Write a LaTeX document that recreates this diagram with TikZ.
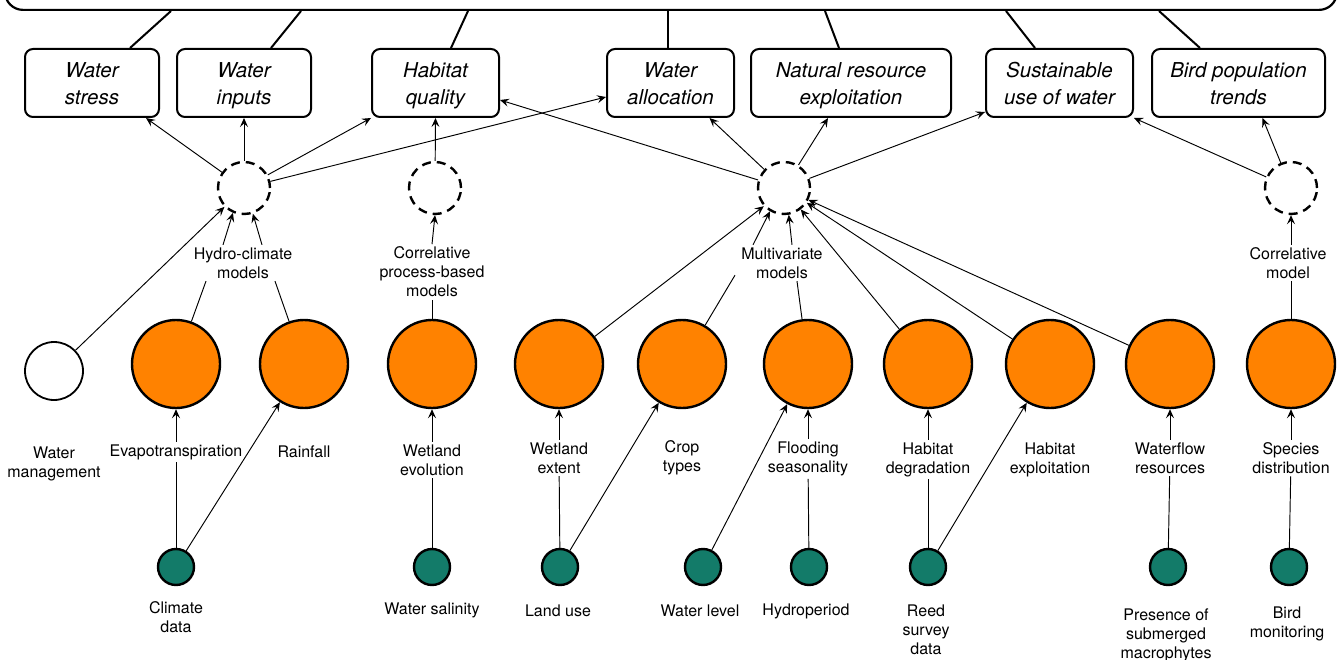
\documentclass[tikz,border=0pt]{standalone}
\usepackage{fontspec}
\setmainfont{TeX Gyre Heros}
\usetikzlibrary{arrows.meta}
\definecolor{driverorange}{HTML}{FF8200}
\definecolor{datagreen}{HTML}{137B69}
% fixed line heights so every two-line box label sits at the same height
\newcommand\boxtopstrut{\rule{0pt}{22pt}}
\newcommand\boxbotstrut{\rule[-6pt]{0pt}{6pt}}

\begin{document}
\begin{tikzpicture}[x=1pt,y=-1pt,
  frame/.style={draw, line width=2.2pt, rounded corners=18pt, inner sep=0pt},
  outcome/.style={draw, line width=2pt, rounded corners=8pt, minimum height=68pt, inner sep=0pt, align=center, font=\fontsize{20.5}{27}\selectfont\itshape},
  model/.style={draw, circle, dash pattern=on 9pt off 6pt, line width=2.4pt, minimum size=52pt, inner sep=0pt},
  driver/.style={draw, circle, fill=driverorange, line width=2.4pt, minimum size=88pt, inner sep=0pt},
  blank/.style={draw, circle, fill=white, line width=1.8pt, minimum size=58pt, inner sep=0pt},
  datum/.style={draw, circle, fill=datagreen, line width=2.4pt, minimum size=36pt, inner sep=0pt},
  lbl/.style={align=center, inner sep=2.5pt, font=\fontsize{16}{19}\selectfont},
  link/.style={line width=0.95pt},
  arr/.style={line width=0.95pt, -{Stealth[length=9pt, width=8pt, inset=3.5pt]}},
]
\useasboundingbox (0,0) rectangle (1343,660);

% overarching frame (top edge runs off the page)
\node[frame, minimum width=1332pt, minimum height=100pt, anchor=south] (top) at (671,11) {};

% outcome boxes
\node[outcome, minimum width=134pt] (ws) at (92,83)     {\boxtopstrut Water\\stress\boxbotstrut};
\node[outcome, minimum width=134pt] (wi) at (244,83)    {\boxtopstrut Water\\inputs\boxbotstrut};
\node[outcome, minimum width=127pt] (hq) at (435.5,83)  {\boxtopstrut Habitat\\quality\boxbotstrut};
\node[outcome, minimum width=127pt] (wa) at (670.5,83)  {\boxtopstrut Water\\allocation\boxbotstrut};
\node[outcome, minimum width=200pt] (nr) at (851,83)    {\boxtopstrut Natural resource\\exploitation\boxbotstrut};
\node[outcome, minimum width=147pt] (su) at (1059.5,83) {\boxtopstrut Sustainable\\use of water\boxbotstrut};
\node[outcome, minimum width=173pt] (bp) at (1238.5,83) {\boxtopstrut Bird population\\trends\boxbotstrut};

% links from the frame to the boxes
\draw[line width=2pt] ([xshift=-500pt]top.south) -- ([xshift=38pt]ws.north);
\draw[line width=2pt] ([xshift=-370pt]top.south) -- ([xshift=27pt]wi.north);
\draw[line width=2pt] ([xshift=-203pt]top.south) -- ([xshift=15.5pt]hq.north);
\draw[line width=2pt] ([xshift=-3pt]top.south)   -- ([xshift=-2.5pt]wa.north);
\draw[line width=2pt] ([xshift=154pt]top.south)  -- ([xshift=-12pt]nr.north);
\draw[line width=2pt] ([xshift=335pt]top.south)  -- ([xshift=-24.5pt]su.north);
\draw[line width=2pt] ([xshift=488pt]top.south)  -- ([xshift=-38.5pt]bp.north);

% model nodes
\node[model] (d1) at (244,188) {};
\node[model] (d2) at (435,188) {};
\node[model] (d3) at (784,188) {};
\node[model] (d4) at (1291,188) {};

% model labels
\node[lbl] (hc)  at (243,263)  {Hydro-climate\\models};
\node[lbl] (cpb) at (432,272)  {Correlative\\process-based\\models};
\node[lbl] (mv)  at (782,263)  {Multivariate\\models};
\node[lbl] (cm)  at (1288,263) {Correlative\\model};

% drivers
\node[blank]  (wm) at (54,371) {};
\node[driver] (ev) at (176,364) {};
\node[driver] (rf) at (304,364) {};
\node[driver] (we) at (432,364) {};
\node[driver] (wx) at (559,364) {};
\node[driver] (ct) at (682,364) {};
\node[driver] (fs) at (808,364) {};
\node[driver] (hd) at (928,364) {};
\node[driver] (he) at (1050,364) {};
\node[driver] (wf) at (1170,364) {};
\node[driver] (sd) at (1291,364) {};

% driver labels
\node[lbl] (wmL) at (54,464)    {Water\\management};
\node[lbl] (evL) at (176,452)   {Evapotranspiration};
\node[lbl] (rfL) at (304,452)   {Rainfall};
\node[lbl] (weL) at (432,460)   {Wetland\\evolution};
\node[lbl] (wxL) at (559,458)   {Wetland\\extent};
\node[lbl] (ctL) at (682,458)   {Crop\\types};
\node[lbl] (fsL) at (808,459)   {Flooding\\seasonality};
\node[lbl] (hdL) at (928,459.5) {Habitat\\degradation};
\node[lbl] (heL) at (1050,459.5){Habitat\\exploitation};
\node[lbl] (wfL) at (1170,458)  {Waterflow\\resources};
\node[lbl] (sdL) at (1291,458)  {Species\\distribution};

% data sources
\node[datum] (cd)  at (176,567)  {};
\node[datum] (sal) at (432,567)  {};
\node[datum] (lu)  at (560,567)  {};
\node[datum] (wl)  at (703,567)  {};
\node[datum] (hp)  at (809,567)  {};
\node[datum] (rs)  at (928,567)  {};
\node[datum] (pm)  at (1168,567) {};
\node[datum] (bm)  at (1289,567) {};

% data labels
\node[lbl] (cdL)  at (176,617.5) {Climate\\data};
\node[lbl] (salL) at (432,610)   {Water salinity};
\node[lbl] (luL)  at (558,611)   {Land use};
\node[lbl] (wlL)  at (700,611)   {Water level};
\node[lbl] (hpL)  at (806,611)   {Hydroperiod};
\node[lbl] (rsL)  at (926,630)   {Reed\\survey\\data};
\node[lbl] (pmL)  at (1166,635)  {Presence of\\submerged\\macrophytes};
\node[lbl] (bmL)  at (1287,624)  {Bird\\monitoring};

% models -> outcomes
\draw[arr] (d1) -- ([xshift=54pt]ws.south);
\draw[arr] (d1) -- (wi.south);
\draw[arr] (d1) -- (hq.south west);
\draw[arr] (d1) -- ([yshift=-14pt]wa.west);
\draw[arr] (d2) -- (hq.south);
\draw[arr] (d3) -- ([yshift=-17pt]hq.east);
\draw[arr] (d3) -- ([xshift=39pt]wa.south);
\draw[arr] (d3) -- ([xshift=-23pt]nr.south);
\draw[arr] (d3) -- ([yshift=-29pt]su.west);
\draw[arr] (d4) -- (su.south east);
\draw[arr] (d4) -- ([xshift=24pt]bp.south);

% model labels -> models
\draw[arr] ([xshift=-20pt]hc.north) -- (d1.246);
\draw[arr] ([xshift=19pt]hc.north) -- (d1.289);
\draw[arr] (cpb.north) -- (d2.south);
\draw[arr] ([xshift=-29pt]mv.north) -- (d3.239);
\draw[arr] ([xshift=10pt]mv.north) -- (d3.280);
\draw[arr] ([xshift=3pt]cm.north) -- (d4.south);

% drivers -> models
\draw[arr] (wm) -- (d1.224);
\draw[link] (ev) -- ([xshift=-37pt]hc.south);
\draw[link] (rf) -- ([xshift=32pt]hc.south);
\draw[link] (we) -- (cpb.south);
\draw[arr] (wx) -- (d3.222);
\draw[link] (ct) -- ([xshift=-47pt,yshift=6pt]mv.south);
\draw[link] (fs) -- ([xshift=15pt]mv.south);
\draw[arr] (hd) -- (d3.308);
\draw[arr] (he) -- (d3.327);
\draw[arr] (wf) -- (d3.334);
\draw[link] (sd) -- ([xshift=3pt]cm.south);

% driver labels -> drivers
\draw[arr] (evL) -- (ev);
\draw[arr] (weL) -- (we);
\draw[arr] (wxL) -- (wx);
\draw[arr] (fsL) -- (fs);
\draw[arr] (hdL) -- (hd);
\draw[arr] (wfL) -- (wf);
\draw[arr] (sdL) -- (sd);

% data -> driver labels / drivers
\draw[link] (cd) -- (evL);
\draw[arr] (cd) -- (rf);
\draw[link] (sal) -- (weL);
\draw[link] (lu) -- (wxL);
\draw[arr] (lu) -- (ct);
\draw[arr] (wl) -- (fs);
\draw[link] (hp) -- (fsL);
\draw[link] (rs) -- (hdL);
\draw[arr] (rs) -- (he);
\draw[link] (pm) -- (wfL);
\draw[link] (bm) -- (sdL);
\end{tikzpicture}
\end{document}
